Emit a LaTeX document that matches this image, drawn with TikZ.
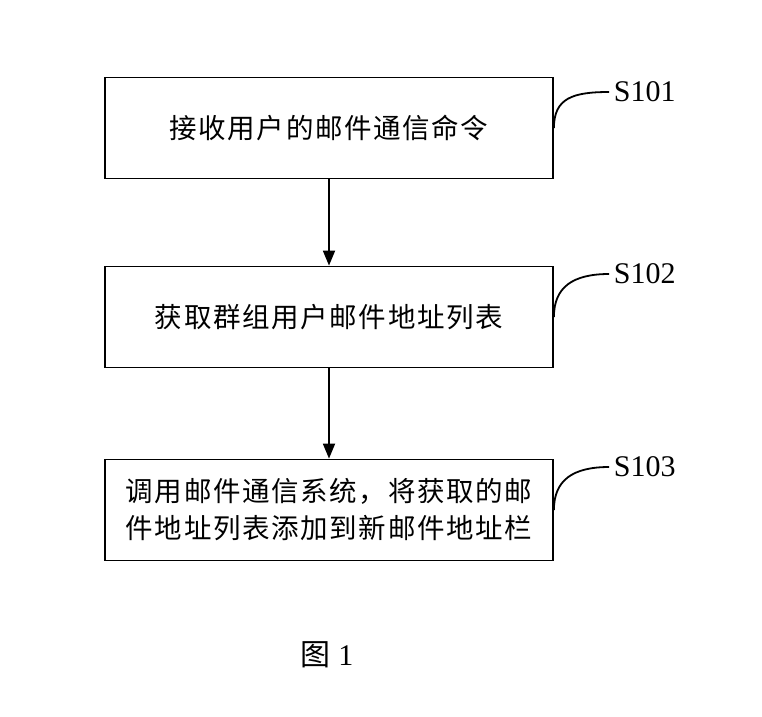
\documentclass[tikz,border=0pt]{standalone}
\usepackage{fontspec}
\setmainfont{Liberation Serif}
\newfontfamily\cjk[LetterSpace=6]{Noto Sans CJK SC}
\usetikzlibrary{arrows.meta}
\tikzset{
  stepbox/.style={draw,line width=1.8pt,minimum width=448pt,minimum height=101pt,align=center,font=\cjk\fontsize{27.5}{37}\selectfont},
  steplabel/.style={anchor=west,inner sep=4pt,font=\fontsize{30}{32}\selectfont},
}
\begin{document}
\begin{tikzpicture}[x=1pt,y=-1pt,>={Triangle[length=15pt,width=12pt]},line width=1.8pt]
    \useasboundingbox (0,0) rectangle (762,716);
    \node[stepbox] (s1) at (329,128) {接收用户的邮件通信命令};
    \node[stepbox] (s2) at (329,317) {获取群组用户邮件地址列表};
    \node[stepbox] (s3) at (329,510) {调用邮件通信系统，将获取的邮\\件地址列表添加到新邮件地址栏};
    \node[steplabel] (l1) at (609,92) {S101};
    \node[steplabel] (l2) at (609,274) {S102};
    \node[steplabel] (l3) at (609,467) {S103};
    \draw (s1.east) .. controls +(0,-30) and +(-36,0) .. (l1.west);
    \draw (s2.east) .. controls +(0,-30) and +(-36,0) .. (l2.west);
    \draw (s3.east) .. controls +(0,-30) and +(-36,0) .. (l3.west);
    \draw[->] (s1) -- (s2);
    \draw[->] (s2) -- (s3);
    \node[font=\fontsize{30}{32}\selectfont] (cap) at (327,655) {{\cjk 图}~1};
\end{tikzpicture}
\end{document}
